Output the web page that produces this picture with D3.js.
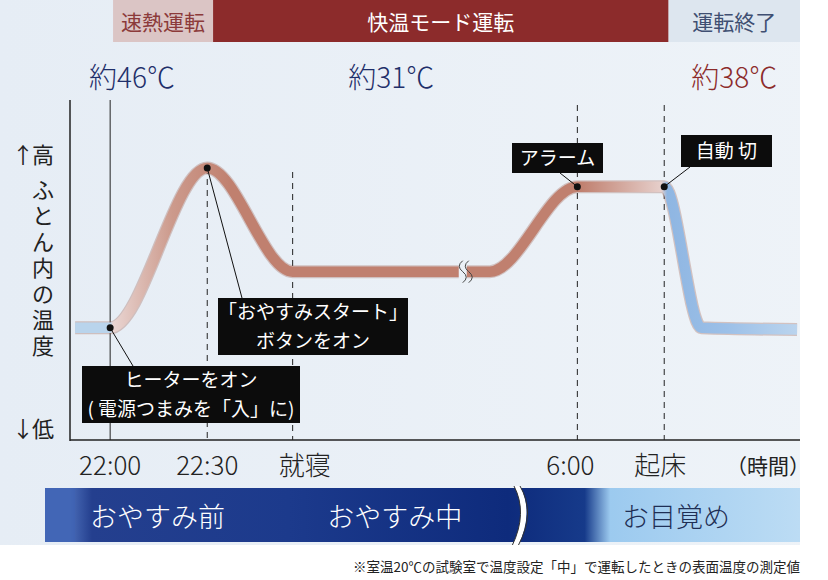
<!DOCTYPE html>
<html><head><meta charset="utf-8">
<script src="https://cdn.jsdelivr.net/npm/d3@7.9.0/dist/d3.min.js"></script>
<style>
body{margin:0;background:#fff;}
text{font-family:"Noto Sans CJK JP","Noto Sans",sans-serif;}
</style></head>
<body><svg id="chart" width="828" height="580"></svg>
<script>
// schematic curve: x in 0..100 (time, not to scale), level in 0..100 (relative warmth)
const curveX = [0.7, 5.5, 18.8, 30.5, 54, 57.5, 69.5, 81.4, 86.5, 99.6];
const curveLevel = [33, 33, 80, 49.5, 49.5, 49.5, 74.5, 74.5, 33, 32.5];

const markerX = [5.5, 18.8, 30.5, 69.5, 81.4];
const tickLabels = ['22:00', '22:30', '就寝', '6:00', '起床'];
const tickShift = [0, 0, 12, -7, -4];

const modeNames = ['速熱運転', '快温モード運転', '運転終了'];
const modeEdges = [5.9, 19.6, 82.0, 100];
const tempLabels = ['約46℃', '約31℃', '約38℃'];
const tempX = [8.5, 44, 91];

const phaseNames = ['おやすみ前', 'おやすみ中', 'お目覚め'];
const phaseX = [12, 44.5, 83];

const svg = d3.select('#chart');
const x = d3.scaleLinear().domain([0, 100]).range([70, 800]);
const y = d3.scaleLinear().domain([0, 100]).range([440, 100]);

// background
const defs = svg.append('defs');
const bg = defs.append('linearGradient').attr('id', 'bg').attr('x1', 0).attr('x2', 1);
bg.append('stop').attr('offset', 0).attr('stop-color', '#e6edf5');
bg.append('stop').attr('offset', 1).attr('stop-color', '#eef3f8');
svg.append('rect').attr('width', 828).attr('height', 545).attr('fill', 'url(#bg)');
svg.append('rect').attr('x', 800).attr('width', 28).attr('height', 545).attr('fill', '#fff');

// top mode band
const modeFill = ['#dbc5c5', '#8c2b2b', '#dde6ef'];
const modeText = ['#8c3a3a', '#fff', '#3f4f72'];
modeNames.forEach((m, i) => {
  svg.append('rect').attr('x', x(modeEdges[i])).attr('y', 0)
    .attr('width', x(modeEdges[i + 1]) - x(modeEdges[i])).attr('height', 42)
    .attr('fill', modeFill[i]);
  svg.append('text').attr('x', (x(modeEdges[i]) + x(modeEdges[i + 1])) / 2).attr('y', 30)
    .attr('text-anchor', 'middle').attr('font-size', 21).attr('fill', modeText[i]).text(m);
});

tempLabels.forEach((t, i) => {
  svg.append('text').attr('x', x(tempX[i])).attr('y', 88).attr('text-anchor', 'middle')
    .attr('font-size', 28).attr('font-weight', 300).attr('fill', i === 2 ? '#8c2b2b' : '#1f2f6a').text(t);
});

// axes
svg.append('line').attr('x1', 70).attr('x2', 70).attr('y1', 100).attr('y2', 441).attr('stroke', '#222').attr('stroke-width', 1.5);
svg.append('line').attr('x1', 70).attr('x2', 800).attr('y1', 440).attr('y2', 440).attr('stroke', '#222').attr('stroke-width', 1.5);
svg.append('line').attr('x1', x(markerX[0])).attr('x2', x(markerX[0])).attr('y1', 100).attr('y2', 440).attr('stroke', '#222');
[[1, y(80)], [2, 172], [3, 105], [4, 105]].forEach(([i, top]) => {
  svg.append('line').attr('x1', x(markerX[i])).attr('x2', x(markerX[i])).attr('y1', top).attr('y2', 440)
    .attr('stroke', '#222').attr('stroke-dasharray', '6,5');
});

// y label
svg.append('text').attr('x', 12).attr('y', 163).attr('font-size', 22).attr('fill', '#222').text('↑');
svg.append('text').attr('x', 32).attr('y', 163).attr('font-size', 22).attr('fill', '#222').text('高');
Array.from('ふとん内の温度').forEach((c, i) => {
  svg.append('text').attr('x', 43).attr('y', 198 + i * 26).attr('text-anchor', 'middle')
    .attr('font-size', 22).attr('fill', '#222').text(c);
});
svg.append('text').attr('x', 12).attr('y', 437).attr('font-size', 22).attr('fill', '#222').text('↓');
svg.append('text').attr('x', 32).attr('y', 437).attr('font-size', 22).attr('fill', '#222').text('低');

// curve gradient
const cg = defs.append('linearGradient').attr('id', 'cg').attr('gradientUnits', 'userSpaceOnUse')
  .attr('x1', x(0)).attr('x2', x(100));
[[0, '#b9d4ec'], [5.5, '#b9d4ec'], [5.9, '#e9d5d2'], [14, '#cc9a8c'], [22, '#c0806f'],
 [70, '#c0806f'], [81, '#e6cfcb'], [81.8, '#8fb6e2'], [90, '#9cc0e8'], [100, '#bcd5ee']]
  .forEach(([o, c]) => cg.append('stop').attr('offset', o + '%').attr('stop-color', c));

const pts = curveX.map((v, i) => [v, curveLevel[i]]);
const line = d3.line().x(d => x(d[0])).y(d => y(d[1])).curve(d3.curveMonotoneX);
svg.append('path').attr('d', line(pts)).attr('fill', 'none').attr('stroke', '#a06858')
  .attr('stroke-opacity', 0.35).attr('stroke-width', 13).attr('stroke-linecap', 'butt');
svg.append('path').attr('d', line(pts)).attr('fill', 'none').attr('stroke', 'url(#cg)')
  .attr('stroke-width', 10.5);

// break mark on curve
function breakMark(cx, cy, h) {
  svg.append('rect').attr('x', cx - 4).attr('y', cy - h / 2).attr('width', 8).attr('height', h).attr('fill', '#eaf0f6');
  [-3, 3].forEach(dx => {
    svg.append('path').attr('d', `M${cx + dx + 3},${cy - h / 2} q-7,${h / 4} 0,${h / 2} q7,${h / 4} 0,${h / 2}`)
      .attr('fill', 'none').attr('stroke', '#444').attr('stroke-width', 1);
  });
}
breakMark(x(53.8), y(49.5), 22);

// ticks
markerX.forEach((m, i) => {
  svg.append('text').attr('x', x(m) + tickShift[i]).attr('y', 475).attr('text-anchor', 'middle')
    .attr('font-size', 26).attr('font-weight', 300).attr('fill', '#222').text(tickLabels[i]);
});
svg.append('text').attr('x', 768).attr('y', 474).attr('text-anchor', 'middle')
  .attr('font-size', 21).attr('fill', '#222').text('（時間）');

// bottom phase band
const pg = defs.append('linearGradient').attr('id', 'pg').attr('gradientUnits', 'userSpaceOnUse')
  .attr('x1', x(0)).attr('x2', x(100));
[[0, '#4a6cb8'], [3, '#243f8e'], [30, '#1c3a8c'], [60, '#0e2b7c'], [70.5, '#163a8a'],
 [74, '#9ccaef'], [100, '#bcdcf4']]
  .forEach(([o, c]) => pg.append('stop').attr('offset', o + '%').attr('stop-color', c));
svg.append('rect').attr('x', x(0) - 25).attr('y', 488).attr('width', x(100) - x(0) + 25).attr('height', 54).attr('fill', 'url(#pg)');
svg.append('rect').attr('x', 45).attr('y', 488).attr('width', 30).attr('height', 54).attr('fill', '#3e63b4').attr('opacity', 0.6);
phaseNames.forEach((p, i) => {
  svg.append('text').attr('x', x(phaseX[i])).attr('y', 527).attr('text-anchor', 'middle')
    .attr('font-size', 27).attr('font-weight', 300).attr('fill', i === 2 ? '#1f2f55' : '#fff').text(p);
});
svg.append('path').attr('d', 'M514,486 q14,27 -2,60 l6,0 q16,-33 2,-60 z').attr('fill', '#fff');
svg.append('path').attr('d', 'M514,486 q14,27 -2,60 M520,486 q16,27 -2,60').attr('fill', 'none')
  .attr('stroke', '#333').attr('stroke-width', 1);

svg.append('rect').attr('y', 545).attr('width', 828).attr('height', 35).attr('fill', '#fff');
svg.append('text').attr('x', 800).attr('y', 572).attr('text-anchor', 'end').attr('font-size', 13.5)
  .attr('fill', '#222').text('※室温20℃の試験室で温度設定「中」で運転したときの表面温度の測定値');

// callouts
function callout(px, py, bx, by, bw, bh, lines, lx, ly) {
  svg.append('line').attr('x1', px).attr('y1', py).attr('x2', lx).attr('y2', ly).attr('stroke', '#111');
  svg.append('rect').attr('x', bx).attr('y', by).attr('width', bw).attr('height', bh).attr('fill', '#0c0c0c');
  lines.forEach((t, i) => {
    svg.append('text').attr('x', bx + bw / 2).attr('y', by + (bh / lines.length) * (i + 0.5) + 7)
      .attr('text-anchor', 'middle').attr('font-size', 19).attr('fill', '#fff').text(t);
  });
  svg.append('circle').attr('cx', px).attr('cy', py).attr('r', 3.5).attr('fill', '#111');
}
callout(x(markerX[0]), y(33), 82, 366, 218, 57, ['ヒーターをオン', '( 電源つまみを「入」に)'], 133, 366);
callout(x(markerX[1]), y(80), 218, 298, 190, 57, ['「おやすみスタート」', 'ボタンをオン'], 242, 298);
callout(x(markerX[3]), y(74.5), 512, 143, 91, 30, ['アラーム'], 560, 173);
callout(x(markerX[4]), y(74.5), 681, 135, 91, 32, ['自動 切'], 690, 167);
</script></body></html>
